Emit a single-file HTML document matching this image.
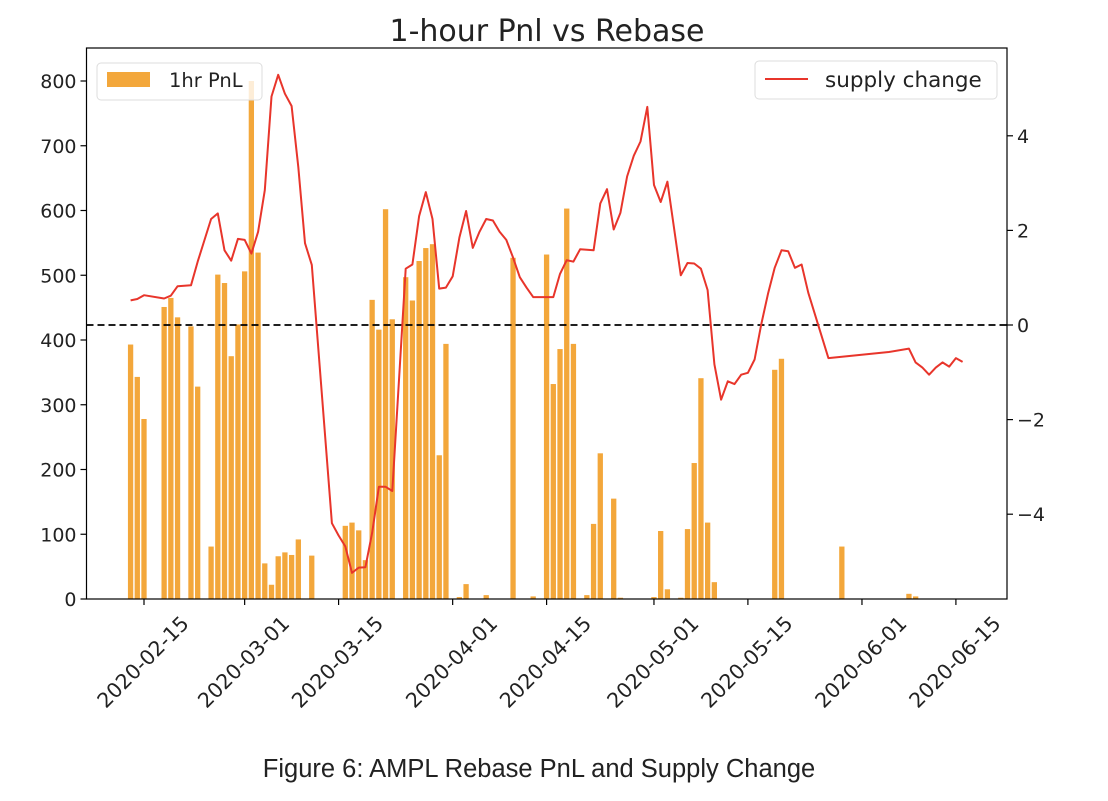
<!DOCTYPE html>
<html><head><meta charset="utf-8"><style>
body{margin:0;background:#fff;}
svg text{font-family:"DejaVu Sans","Liberation Sans",sans-serif;fill:#222;}
</style></head><body>
<svg id="chart" width="1108" height="796" xmlns="http://www.w3.org/2000/svg">
<text x="547" y="41" font-size="30" text-anchor="middle">1-hour Pnl vs Rebase</text>
<g id="plot"></g>
<text x="539" y="777" font-size="25.5" text-anchor="middle" style="font-family:'Liberation Sans',sans-serif">Figure 6: AMPL Rebase PnL and Supply Change</text>
</svg>
<script>
// day offsets from 2020-02-15
const barDays = [-2,-1,0,3,4,5,7,8,10,11,12,13,14,15,16,17,18,19,20,21,22,23,25,30,31,32,33,34,35,36,37,39,40,41,42,43,44,45,47,48,51,55,58,60,61,62,63,64,66,67,68,70,71,76,77,78,80,81,82,83,84,85,94,95,104,114,115];
const barValues = [393,343,278,451,465,435,421,328,81,501,488,375,424,506,800,535,55,22,66,72,68,92,67,113,118,106,60,462,416,602,432,497,461,522,542,548,222,394,3,23,6,527,4,532,332,386,603,394,6,116,225,155,2,3,105,15,2,108,210,341,118,26,354,371,81,8,4];
const lineDays = [-2,-1,0,3,4,5,7,8,10,11,12,13,14,15,16,17,18,19,20,21,22,23,24,25,28,29,30,31,32,33,34,35,36,37,39,40,41,42,43,44,45,46,47,48,49,50,51,52,53,54,55,56,57,58,61,62,63,64,65,66,67,68,69,70,71,72,73,74,75,76,77,78,80,81,82,83,84,85,86,87,88,89,90,91,92,93,94,95,96,97,98,99,102,111,114,115,116,117,118,119,120,121,122];
const lineValues = [0.52,0.55,0.63,0.56,0.62,0.82,0.84,1.34,2.24,2.36,1.58,1.36,1.82,1.80,1.51,1.97,2.85,4.83,5.29,4.89,4.63,3.34,1.73,1.27,-4.19,-4.45,-4.68,-5.24,-5.13,-5.12,-4.4,-3.42,-3.42,-3.51,1.19,1.28,2.30,2.81,2.24,0.77,0.79,1.03,1.85,2.41,1.63,1.97,2.24,2.21,1.97,1.80,1.43,1.01,0.79,0.59,0.59,1.08,1.37,1.34,1.60,1.59,1.58,2.57,2.87,2.02,2.37,3.14,3.58,3.88,4.61,2.96,2.60,3.03,1.05,1.31,1.30,1.19,0.74,-0.83,-1.58,-1.19,-1.25,-1.05,-1.01,-0.73,0.02,0.66,1.21,1.58,1.56,1.21,1.28,0.68,-0.70,-0.57,-0.50,-0.79,-0.90,-1.05,-0.90,-0.79,-0.88,-0.70,-0.78];
const leftTicks = [0,100,200,300,400,500,600,700,800];
const rightTicks = [-4,-2,0,2,4];
const xTickDays = [0,15,29,46,60,76,90,107,121];
const xTickLabels = ["2020-02-15","2020-03-01","2020-03-15","2020-04-01","2020-04-15","2020-05-01","2020-05-15","2020-06-01","2020-06-15"];

const L=86.5,R=1007,T=48,B=599;
const xS=d=>144+d*6.71;
const yL=v=>B-v*0.6475;
const yR=v=>325-v*47.3;
const NS="http://www.w3.org/2000/svg";
const g=document.getElementById('plot');
function mk(tag,attrs,parent){const e=document.createElementNS(NS,tag);for(const k in attrs)e.setAttribute(k,attrs[k]);(parent||g).appendChild(e);return e;}

const bw=5.3;
barDays.forEach((d,i)=>{
  const y=yL(barValues[i]);
  const r=mk('rect',{x:xS(d)-bw/2,y:y,width:bw,height:B-y,fill:'#f3a73b'});
  
  
});
const zl=mk('line',{x1:L,x2:R,y1:yR(0),y2:yR(0),stroke:'#000','stroke-width':1.8,'stroke-dasharray':'7,4'});


const pts=lineDays.map((d,i)=>xS(d).toFixed(1)+','+yR(lineValues[i]).toFixed(1)).join(' ');
const pl=mk('polyline',{points:pts,fill:'none',stroke:'#e8352b','stroke-width':2,'stroke-linejoin':'round'});



const fr=mk('rect',{x:L,y:T,width:R-L,height:B-T,fill:'none',stroke:'#000','stroke-width':1.2});



leftTicks.forEach(v=>{
  const y=yL(v);
  mk('line',{x1:L-6,x2:L,y1:y,y2:y,stroke:'#000','stroke-width':1.2});
  const t=mk('text',{x:L-10,y:y+7,'font-size':19,'text-anchor':'end'});t.textContent=v;
  
  
});
rightTicks.forEach(v=>{
  const y=yR(v);
  mk('line',{x1:R,x2:R+6,y1:y,y2:y,stroke:'#000','stroke-width':1.2});
  const t=mk('text',{x:R+10,y:y+7,'font-size':19});t.textContent=(v<0?'\u2212'+(-v):v);
  
  
});
xTickDays.forEach((d,i)=>{
  const x=xS(d);
  mk('line',{x1:x,x2:x,y1:B,y2:B+6,stroke:'#000','stroke-width':1.2});
  const ax=x-1, ay=B+63;
  const t=mk('text',{x:ax,y:ay+7,'font-size':20.5,'text-anchor':'middle',transform:`rotate(-45 ${ax} ${ay})`});
  t.textContent=xTickLabels[i];
  
  
});

// legends
const lg1=mk('g',{});


mk('rect',{x:97,y:63,width:165,height:37,rx:4,fill:'#fff','fill-opacity':0.8,stroke:'#ddd'},lg1);
mk('rect',{x:107,y:72,width:43,height:15,fill:'#f3a73b'},lg1);
const lt1=mk('text',{x:169,y:87,'font-size':19.5},lg1);lt1.textContent='1hr PnL';
const lg2=mk('g',{});


mk('rect',{x:755,y:61,width:242,height:38,rx:4,fill:'#fff','fill-opacity':0.8,stroke:'#ddd'},lg2);
mk('line',{x1:765,x2:808,y1:79,y2:79,stroke:'#e8352b','stroke-width':2},lg2);
const lt2=mk('text',{x:825,y:87,'font-size':21.5},lg2);lt2.textContent='supply change';
</script>
</body></html>
